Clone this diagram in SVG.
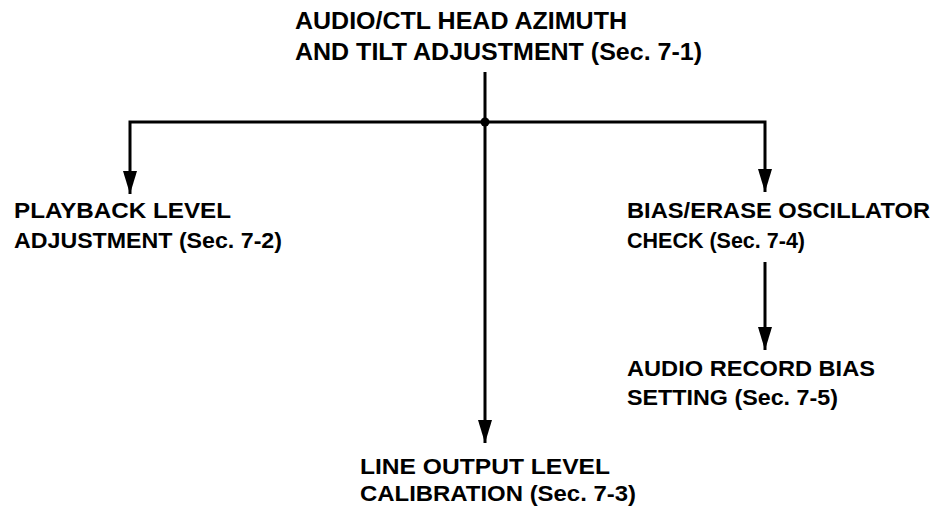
<svg xmlns="http://www.w3.org/2000/svg" width="937" height="508" viewBox="0 0 937 508">
  <defs>
    <marker id="arr" viewBox="0 -7 23 14" refX="23" refY="0" markerWidth="23" markerHeight="14" markerUnits="userSpaceOnUse" orient="auto">
      <path d="M0,-7 L23,0 L0,7 z" fill="#000"/>
    </marker>
  </defs>
  <style>
    text { font-family: "Liberation Sans", Arial, Helvetica, sans-serif; font-weight: bold; fill: #000; }
    .t { font-size: 23px; }
    .l { font-size: 22px; }
    .c { fill: none; stroke: #000; stroke-width: 3; stroke-linejoin: miter; }
  </style>
  <rect width="937" height="508" fill="#fff"/>
  <g id="connectors">
    <path class="c" d="M485,72 V443" marker-end="url(#arr)"/>
    <path class="c" d="M130,185 V122 H765 V185"/>
    <path class="c" d="M130,186 V194" marker-end="url(#arr)"/>
    <path class="c" d="M765,184 V192" marker-end="url(#arr)"/>
    <path class="c" d="M765,262 V350" marker-end="url(#arr)"/>
    <circle cx="485" cy="122" r="4.5" fill="#000"/>
  </g>
  <g id="node-7-1">
    <text class="t" x="295" y="29" textLength="332" lengthAdjust="spacingAndGlyphs">AUDIO/CTL HEAD AZIMUTH</text>
    <text class="t" x="295" y="60" textLength="407" lengthAdjust="spacingAndGlyphs">AND TILT ADJUSTMENT (Sec. 7-1)</text>
  </g>
  <g id="node-7-2">
    <text class="l" x="14" y="218" textLength="217" lengthAdjust="spacingAndGlyphs">PLAYBACK LEVEL</text>
    <text class="l" x="14" y="248" textLength="268" lengthAdjust="spacingAndGlyphs">ADJUSTMENT (Sec. 7-2)</text>
  </g>
  <g id="node-7-4">
    <text class="l" x="627" y="218" textLength="303" lengthAdjust="spacingAndGlyphs">BIAS/ERASE OSCILLATOR</text>
    <text class="l" x="627" y="248" textLength="178" lengthAdjust="spacingAndGlyphs">CHECK (Sec. 7-4)</text>
  </g>
  <g id="node-7-5">
    <text class="l" x="627" y="376" textLength="248" lengthAdjust="spacingAndGlyphs">AUDIO RECORD BIAS</text>
    <text class="l" x="627" y="405" textLength="211" lengthAdjust="spacingAndGlyphs">SETTING (Sec. 7-5)</text>
  </g>
  <g id="node-7-3">
    <text class="l" x="360" y="474" textLength="250" lengthAdjust="spacingAndGlyphs">LINE OUTPUT LEVEL</text>
    <text class="l" x="360" y="501" textLength="276" lengthAdjust="spacingAndGlyphs">CALIBRATION (Sec. 7-3)</text>
  </g>
</svg>
